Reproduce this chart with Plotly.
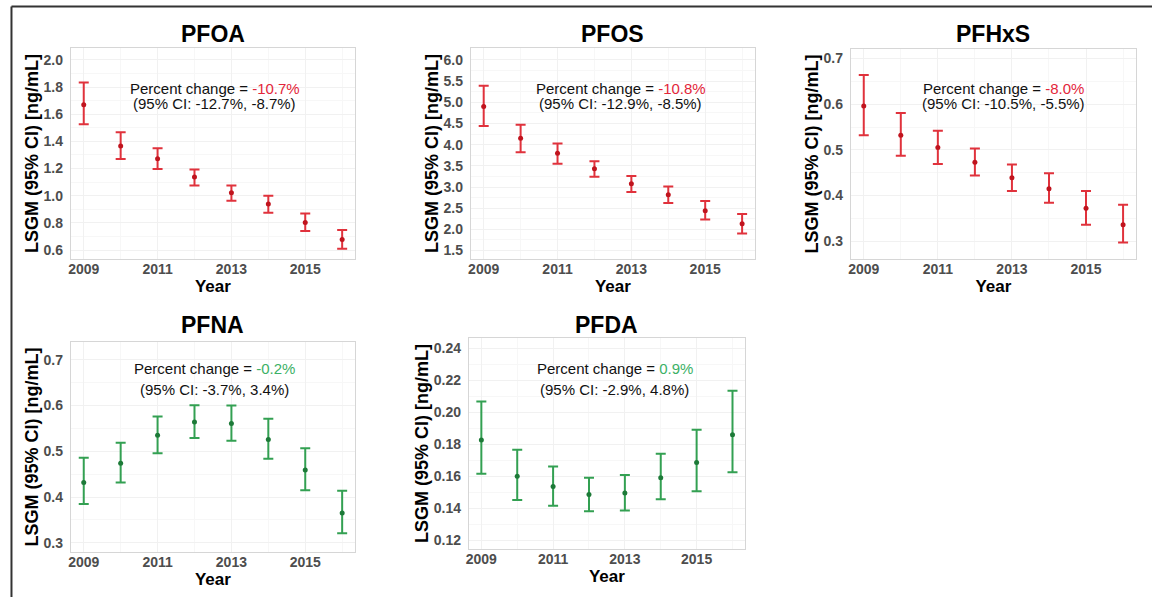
import plotly.graph_objects as go

# ---------------- data ----------------
years = [2009, 2010, 2011, 2012, 2013, 2014, 2015, 2016]
compounds = ["PFOA", "PFOS", "PFHxS", "PFNA", "PFDA"]

pfoa_lsgm = [1.67, 1.366, 1.273, 1.138, 1.022, 0.939, 0.803, 0.678]
pfoa_low = [1.526, 1.27, 1.197, 1.076, 0.963, 0.875, 0.74, 0.61]
pfoa_up = [1.833, 1.467, 1.349, 1.194, 1.076, 1.0, 0.87, 0.747]

pfos_lsgm = [4.90, 4.15, 3.80, 3.43, 3.08, 2.82, 2.44, 2.13]
pfos_low = [4.44, 3.82, 3.55, 3.24, 2.88, 2.62, 2.23, 1.90]
pfos_up = [5.39, 4.47, 4.03, 3.61, 3.26, 3.01, 2.67, 2.36]

pfhxs_lsgm = [0.596, 0.532, 0.505, 0.473, 0.439, 0.415, 0.372, 0.336]
pfhxs_low = [0.532, 0.487, 0.469, 0.444, 0.410, 0.384, 0.336, 0.297]
pfhxs_up = [0.664, 0.581, 0.542, 0.503, 0.468, 0.449, 0.410, 0.380]

pfna_lsgm = [0.432, 0.474, 0.535, 0.564, 0.561, 0.526, 0.459, 0.365]
pfna_low = [0.385, 0.432, 0.496, 0.529, 0.523, 0.484, 0.415, 0.321]
pfna_up = [0.486, 0.519, 0.576, 0.601, 0.600, 0.571, 0.507, 0.414]

pfda_lsgm = [0.1827, 0.160, 0.1535, 0.1485, 0.1495, 0.159, 0.1685, 0.186]
pfda_low = [0.1615, 0.145, 0.1415, 0.138, 0.1385, 0.1455, 0.1505, 0.1625]
pfda_up = [0.2067, 0.1765, 0.166, 0.159, 0.1608, 0.174, 0.189, 0.2135]

pct_change = ["-10.7%", "-10.8%", "-8.0%", "-0.2%", "0.9%"]
ci_low = ["-12.7%", "-12.9%", "-10.5%", "-3.7%", "-2.9%"]
ci_high = ["-8.7%", "-8.5%", "-5.5%", "3.4%", "4.8%"]

x_ticks = [2009, 2011, 2013, 2015]
y_ticks = [
    [0.6, 0.8, 1.0, 1.2, 1.4, 1.6, 1.8, 2.0],
    [1.5, 2.0, 2.5, 3.0, 3.5, 4.0, 4.5, 5.0, 5.5, 6.0],
    [0.3, 0.4, 0.5, 0.6, 0.7],
    [0.3, 0.4, 0.5, 0.6, 0.7],
    [0.12, 0.14, 0.16, 0.18, 0.20, 0.22, 0.24],
]
y_fmt = [".1f", ".1f", ".1f", ".1f", ".2f"]

series = [
    (pfoa_lsgm, pfoa_low, pfoa_up),
    (pfos_lsgm, pfos_low, pfos_up),
    (pfhxs_lsgm, pfhxs_low, pfhxs_up),
    (pfna_lsgm, pfna_low, pfna_up),
    (pfda_lsgm, pfda_low, pfda_up),
]

# ---------------- layout / style ----------------
W, H = 1152, 597
FONT = "Arial, 'Liberation Sans', sans-serif"
RED_T, RED_B, RED_M = "#e3263a", "#e0323c", "#c0141e"
GRN_T, GRN_B, GRN_M = "#3cb166", "#33a052", "#1d7a38"
trend_red = [True, True, True, False, False]

# plot boxes in pixels: (left, right, top, bottom)
boxes = [
    (68, 353, 48, 259),
    (469, 754, 48, 259),
    (850, 1136, 49, 259),
    (68, 353, 342, 552),
    (467, 744, 338, 549),
]
y_ranges = [
    (0.534, 2.088),
    (1.30, 6.283),
    (0.261, 0.721),
    (0.28, 0.739),
    (0.1144, 0.2465),
]
# text line positions (pixels): title y, annotation line1 y, line2 y
title_y = [34, 34, 34, 325, 325]
ann1_y = [88, 88, 88, 368, 368]
ann2_y = [104, 104, 104, 389, 389]
ann_dx = [2, 8, 10, 2, 8]

fig = go.Figure()
layout = dict(
    width=W, height=H,
    margin=dict(l=0, r=0, t=0, b=0),
    paper_bgcolor="white", plot_bgcolor="white",
    showlegend=False,
    font=dict(family=FONT, color="black"),
)
annotations = []

for i, name in enumerate(compounds):
    lsgm, low, up = series[i]
    red = trend_red[i]
    bcol = RED_B if red else GRN_B
    mcol = RED_M if red else GRN_M
    tcol = RED_T if red else GRN_T
    xa = "x" if i == 0 else f"x{i+1}"
    ya = "y" if i == 0 else f"y{i+1}"
    xkey = "xaxis" if i == 0 else f"xaxis{i+1}"
    ykey = "yaxis" if i == 0 else f"yaxis{i+1}"
    l, r, t, b = boxes[i]

    fig.add_trace(go.Scatter(
        x=years, y=lsgm, mode="markers", xaxis=xa, yaxis=ya,
        marker=dict(color=mcol, size=5),
        error_y=dict(type="data", symmetric=False,
                     array=[u - m for u, m in zip(up, lsgm)],
                     arrayminus=[m - lo for m, lo in zip(lsgm, low)],
                     color=bcol, thickness=2, width=5),
    ))

    layout[xkey] = dict(
        domain=[l / W, r / W], anchor=ya, range=[2008.65, 2016.35],
        tickvals=x_ticks, ticks="", ticklabelstandoff=-3,
        tickfont=dict(size=14, color="#4d4d4d", family=FONT, weight="bold"),
        showgrid=True, gridcolor="#f1f1f1", gridwidth=1,
        minor=dict(showgrid=True, gridcolor="#f7f7f7", dtick=1, tick0=2010),
        showline=True, mirror=True, linecolor="#d6d6d6", linewidth=1,
        zeroline=False,
        title=dict(text="Year", standoff=0,
                   font=dict(size=17, color="black", family=FONT, weight="bold")),
    )
    yt = y_ticks[i]
    layout[ykey] = dict(
        domain=[1 - b / H, 1 - t / H], anchor=xa, range=list(y_ranges[i]),
        tickvals=yt, tickformat=y_fmt[i], ticks="", ticklabelstandoff=4,
        tickfont=dict(size=14, color="#4d4d4d", family=FONT, weight="bold"),
        showgrid=True, gridcolor="#f1f1f1", gridwidth=1,
        minor=dict(showgrid=True, gridcolor="#f7f7f7",
                   tickvals=[(a + c) / 2 for a, c in zip(yt[:-1], yt[1:])]),
        showline=True, mirror=True, linecolor="#d6d6d6", linewidth=1,
        zeroline=False,
        title=dict(text="LSGM (95% CI) [ng/mL]", standoff=0,
                   font=dict(size=18, color="black", family=FONT, weight="bold")),
    )

    cx = (l + r) / 2 / W
    annotations.append(dict(
        xref="paper", yref="paper", x=cx, y=1 - title_y[i] / H,
        text=f"<b>{name}</b>", showarrow=False, xanchor="center", yanchor="middle",
        font=dict(size=23, color="black", family=FONT)))
    annotations.append(dict(
        xref="paper", yref="paper", x=((l + r) / 2 + ann_dx[i]) / W,
        y=1 - ann1_y[i] / H,
        text=f"Percent change = <span style='color:{tcol}'>{pct_change[i]}</span>",
        showarrow=False, xanchor="center", yanchor="middle",
        font=dict(size=15, color="#111", family=FONT)))
    annotations.append(dict(
        xref="paper", yref="paper", x=((l + r) / 2 + ann_dx[i]) / W,
        y=1 - ann2_y[i] / H,
        text=f"(95% CI: {ci_low[i]}, {ci_high[i]})",
        showarrow=False, xanchor="center", yanchor="middle",
        font=dict(size=15, color="#111", family=FONT)))

layout["annotations"] = annotations
layout["shapes"] = [
    dict(type="line", xref="paper", yref="paper",
         x0=8.5 / W, x1=1.0, y0=1 - 6.5 / H, y1=1 - 6.5 / H,
         line=dict(color="#333", width=2), layer="above"),
    dict(type="line", xref="paper", yref="paper",
         x0=8.5 / W, x1=8.5 / W, y0=0.0, y1=1 - 6.5 / H,
         line=dict(color="#333", width=2), layer="above"),
]

fig.update_layout(**layout)
fig.write_html(
    "out.html",
    config={"displayModeBar": False},
    post_script="document.body.style.margin='0';document.body.style.overflow='hidden';",
)
